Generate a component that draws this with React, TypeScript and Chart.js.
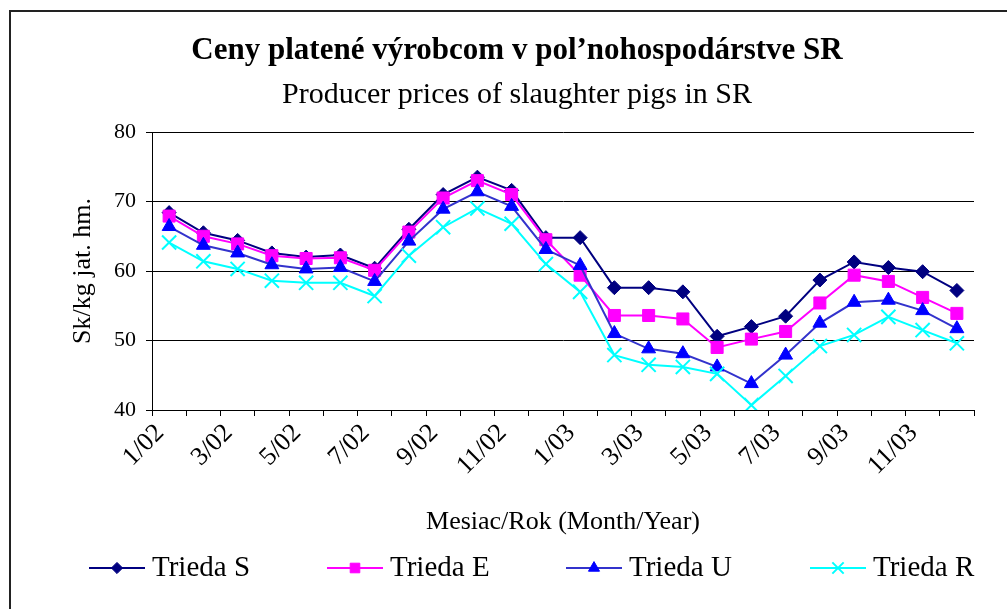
import { useEffect, useRef } from "react";
import { Chart, registerables } from "chart.js";
import { drawPoint } from "chart.js/helpers";

Chart.register(...registerables);

const months = [
  "1/02", "2/02", "3/02", "4/02", "5/02", "6/02", "7/02", "8/02", "9/02", "10/02", "11/02", "12/02",
  "1/03", "2/03", "3/03", "4/03", "5/03", "6/03", "7/03", "8/03", "9/03", "10/03", "11/03", "12/03",
];

const triedaS = [68.4, 65.5, 64.4, 62.6, 62.0, 62.3, 60.4, 66.0, 71.0, 73.5, 71.6, 64.8, 64.8, 57.6, 57.6, 57.0, 50.6, 52.0, 53.5, 58.7, 61.3, 60.5, 59.9, 57.2];
const triedaE = [67.9, 65.0, 63.9, 62.2, 61.8, 61.9, 60.1, 65.6, 70.5, 73.0, 71.0, 64.5, 59.4, 53.6, 53.6, 53.1, 49.0, 50.2, 51.3, 55.4, 59.4, 58.5, 56.2, 53.9];
const triedaU = [66.4, 63.7, 62.6, 60.9, 60.3, 60.5, 58.5, 64.3, 68.9, 71.4, 69.3, 63.1, 60.8, 51.0, 48.8, 48.1, 46.2, 43.8, 47.9, 52.5, 55.5, 55.8, 54.3, 51.7];
const triedaR = [64.1, 61.4, 60.3, 58.6, 58.3, 58.3, 56.4, 62.2, 66.3, 69.0, 66.8, 61.0, 57.0, 47.9, 46.5, 46.2, 45.2, 40.7, 44.9, 49.2, 50.8, 53.4, 51.5, 49.6];

const yTicks = [40, 50, 60, 70, 80];

const titleText = "Ceny platené výrobcom v pol’nohospodárstve SR";
const subtitleText = "Producer prices of slaughter pigs in SR";
const yTitle = "Sk/kg jat. hm.";
const xTitle = "Mesiac/Rok (Month/Year)";

const FONT = "'Liberation Serif', 'Times New Roman', serif";

const legendX = [89, 327, 566, 810];

const decor = {
  id: "decor",
  beforeDraw(chart: any) {
    const ctx = chart.ctx;
    ctx.save();
    ctx.fillStyle = "#ffffff";
    ctx.fillRect(0, 0, chart.width, chart.height);
    ctx.fillStyle = "#222222";
    ctx.fillRect(9, 10, chart.width - 9, 2);
    ctx.fillRect(9, 10, 2, chart.height - 10);
    ctx.restore();
  },
  afterDraw(chart: any) {
    const ctx = chart.ctx;
    const y = 568;
    ctx.save();
    chart.data.datasets.forEach((ds: any, i: number) => {
      const x0 = legendX[i];
      ctx.strokeStyle = ds.borderColor;
      ctx.lineWidth = 2;
      ctx.beginPath();
      ctx.moveTo(x0, y);
      ctx.lineTo(x0 + 56, y);
      ctx.stroke();
      ctx.fillStyle = ds.pointBackgroundColor;
      ctx.strokeStyle = ds.pointBorderColor;
      ctx.lineWidth = ds.pointBorderWidth;
      drawPoint(ctx, { pointStyle: ds.pointStyle, radius: ds.pointRadius * 0.8, rotation: 0, borderWidth: ds.pointBorderWidth }, x0 + 28, y);
      ctx.fillStyle = "#000";
      ctx.font = `29px ${FONT}`;
      ctx.textAlign = "left";
      ctx.textBaseline = "middle";
      ctx.fillText(ds.label, x0 + 63, y);
    });
    ctx.restore();
  },
};

export default function App() {
  const ref = useRef<HTMLCanvasElement>(null);
  useEffect(() => {
    const canvas = ref.current!;
    const chart = new Chart(canvas, {
      type: "line",
      data: {
        labels: months,
        datasets: [
          {
            label: "Trieda S", data: triedaS, order: 3,
            borderColor: "#000080", backgroundColor: "#000080",
            pointStyle: "rectRot", pointRadius: 7, pointBackgroundColor: "#000080", pointBorderColor: "#000080", pointBorderWidth: 1,
            borderWidth: 2, tension: 0,
          },
          {
            label: "Trieda E", data: triedaE, order: 2,
            borderColor: "#FF00FF", backgroundColor: "#FF00FF",
            pointStyle: "rect", pointRadius: 8.5, pointBackgroundColor: "#FF00FF", pointBorderColor: "#FF00FF", pointBorderWidth: 1,
            borderWidth: 2, tension: 0,
          },
          {
            label: "Trieda U", data: triedaU, order: 1,
            borderColor: "#3333CC", backgroundColor: "#0000FF",
            pointStyle: "triangle", pointRadius: 8, pointBackgroundColor: "#0000FF", pointBorderColor: "#0000FF", pointBorderWidth: 1,
            borderWidth: 2, tension: 0,
          },
          {
            label: "Trieda R", data: triedaR, order: 0,
            borderColor: "#00FFFF", backgroundColor: "#00FFFF",
            pointStyle: "crossRot", pointRadius: 10, pointBackgroundColor: "#00FFFF", pointBorderColor: "#00FFFF", pointBorderWidth: 2,
            borderWidth: 2, tension: 0,
          },
        ],
      },
      options: {
        animation: false,
        responsive: false,
        maintainAspectRatio: false,
        layout: { padding: { left: 60, top: 0, right: 33, bottom: 59 } },
        plugins: {
          legend: { display: false },
          tooltip: { enabled: false },
          title: {
            display: true, text: titleText, color: "#000",
            font: { family: FONT, size: 31, weight: "bold", lineHeight: 1.2 },
            padding: { top: 32.4, bottom: 0 },
          },
          subtitle: {
            display: true, text: subtitleText, color: "#000",
            font: { family: FONT, size: 30, weight: "normal", lineHeight: 1.2 },
            padding: { top: 7.4, bottom: 19 },
          },
        },
        scales: {
          x: {
            type: "category",
            offset: true,
            grid: { offset: true, drawOnChartArea: false, drawTicks: true, tickLength: 6, color: "#000", lineWidth: 1 },
            border: { display: true, color: "#000", width: 1 },
            ticks: {
              autoSkip: false, maxRotation: 45, minRotation: 45, color: "#000", padding: 2, labelOffset: -9,
              font: { family: FONT, size: 26 },
              callback: (_v: any, i: number) => (i % 2 === 0 ? months[i] : ""),
            },
            title: {
              display: true, text: xTitle, color: "#000",
              font: { family: FONT, size: 26, lineHeight: 1.2 },
              padding: { top: 0, bottom: 12 },
            },
            afterFit: (s: any) => { s.height = 140; },
          },
          y: {
            min: 40, max: 80,
            afterBuildTicks: (s: any) => { s.ticks = yTicks.map((v) => ({ value: v })); },
            grid: { color: "#000", lineWidth: 1, tickLength: 6, drawTicks: true },
            border: { display: true, color: "#000", width: 1 },
            ticks: { color: "#000", padding: 10, font: { family: FONT, size: 22 } },
            title: {
              display: true, text: yTitle, color: "#000",
              font: { family: FONT, size: 26, lineHeight: 1.2 },
              padding: { top: 7.4, bottom: 0 },
            },
            afterFit: (s: any) => { s.width = 92; },
          },
        },
      },
      plugins: [decor],
    } as any);
    return () => chart.destroy();
  }, []);
  return (
    <div style={{ position: "fixed", left: 0, top: 0, width: 1007, height: 609 }}>
      <canvas ref={ref} width={1007} height={609} style={{ display: "block", width: 1007, height: 609 }} />
    </div>
  );
}
